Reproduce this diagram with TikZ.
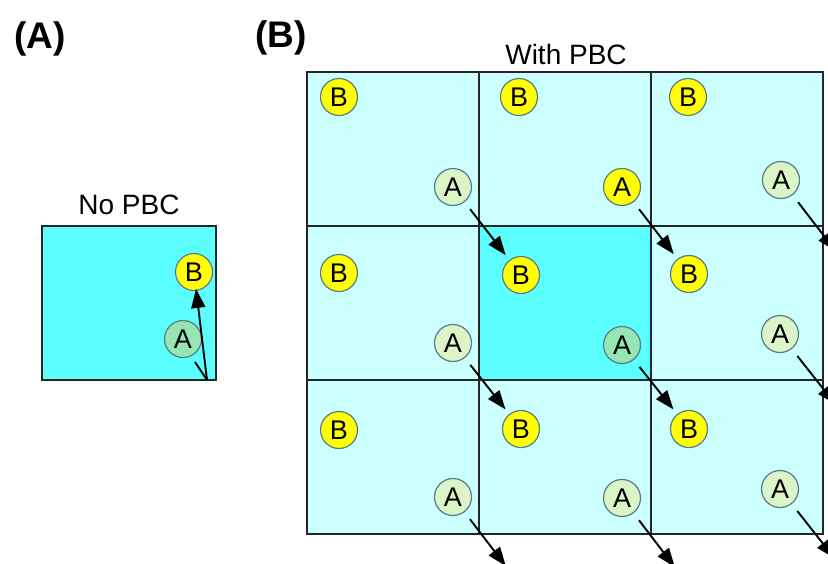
\documentclass[tikz,border=0pt]{standalone}
\usepackage{fontspec}
\setmainfont{Liberation Sans}
\usetikzlibrary{arrows.meta}
\definecolor{lightcell}{HTML}{CCFFFF}
\definecolor{maincell}{HTML}{5CFFFF}
\definecolor{bfill}{HTML}{FFFF00}
\definecolor{amint}{HTML}{96E6B4}
\definecolor{apale}{HTML}{DCF5C8}
\definecolor{ringcol}{HTML}{5A7A8A}
\tikzset{
  cellbox/.style={fill=lightcell, draw=black!85, line width=1.3pt},
  centerbox/.style={fill=maincell, draw=black!85, line width=1.3pt},
  particle/.style={circle, draw=ringcol, line width=1.2pt, minimum size=37pt, inner sep=0pt,
    font=\fontsize{27}{30}\selectfont},
  pB/.style={particle, fill=bfill},
  pA/.style={particle, fill=apale},
  pAc/.style={particle, fill=amint},
  move/.style={line width=1.9pt, -{Triangle[length=19pt,width=14pt]}, shorten <=28pt, shorten >=25pt},
  plain/.style={line width=1.9pt},
  title/.style={font=\fontsize{28}{32}\selectfont, anchor=base},
  panel/.style={font=\bfseries\fontsize{37}{40}\selectfont, anchor=base}
}
\begin{document}
\begin{tikzpicture}[x=1pt,y=-1pt]
\useasboundingbox (0,0) rectangle (828,563);
\clip (0,0) rectangle (828,563);

% panel labels
\node[panel] (labA) at (40,48) {(A)};
\node[panel] (labB) at (281,47) {(B)};

% ---- Panel A ----
\node[title] (nopbc) at (129,214) {No PBC};
\path[centerbox] (42,226) rectangle (216,380);
\node[pB] (sb) at (194,272) {B};
\node[pAc] (sa) at (183,339) {A};
\coordinate (sbot) at (207,380);
\coordinate (sout) at (195,362);
\draw[plain] (sout) -- (sbot);
\draw[line width=1.9pt, -{Triangle[length=19pt,width=14pt]}, shorten >=17pt] (sbot) -- (sb.center);

% ---- Panel B ----
\node[title] (withpbc) at (566,64) {With PBC};
\foreach \i/\x in {0/307,1/479,2/651}{
  \foreach \j/\y in {0/72,1/226,2/380}{
    \path[cellbox] (\x,\y) rectangle +(172,154);
  }
}
\path[centerbox] (479,226) rectangle (651,380);

% B particles
\node[pB] (b11) at (339,97) {B};
\node[pB] (b12) at (519,97) {B};
\node[pB] (b13) at (688,97) {B};
\node[pB] (b21) at (339,273) {B};
\node[pB] (b22) at (521,275) {B};
\node[pB] (b23) at (689,274) {B};
\node[pB] (b31) at (339,430) {B};
\node[pB] (b32) at (521,429) {B};
\node[pB] (b33) at (689,429) {B};

% A particles
\node[pA] (a11) at (453,187) {A};
\node[pA,fill=bfill] (a12) at (622,187) {A};
\node[pA] (a13) at (781,180) {A};
\node[pA] (a21) at (453,343) {A};
\node[pAc] (a22) at (622,345) {A};
\node[pA] (a23) at (780,334) {A};
\node[pA] (a31) at (453,497) {A};
\node[pA] (a32) at (622,498) {A};
\node[pA] (a33) at (780,489) {A};

% images of B outside the drawn grid
\coordinate (g1) at (851,271);
\coordinate (g2) at (851,424);
\coordinate (g3) at (521,586);
\coordinate (g4) at (690,587);
\coordinate (g5) at (850,578);

% displacement arrows
\draw[move] (a11.center) -- (b22.center);
\draw[move] (a12.center) -- (b23.center);
\draw[move] (a13.center) -- (g1);
\draw[move] (a21.center) -- (b32.center);
\draw[move] (a22.center) -- (b33.center);
\draw[move] (a23.center) -- (g2);
\draw[move] (a31.center) -- (g3);
\draw[move] (a32.center) -- (g4);
\draw[move] (a33.center) -- (g5);
\end{tikzpicture}
\end{document}
